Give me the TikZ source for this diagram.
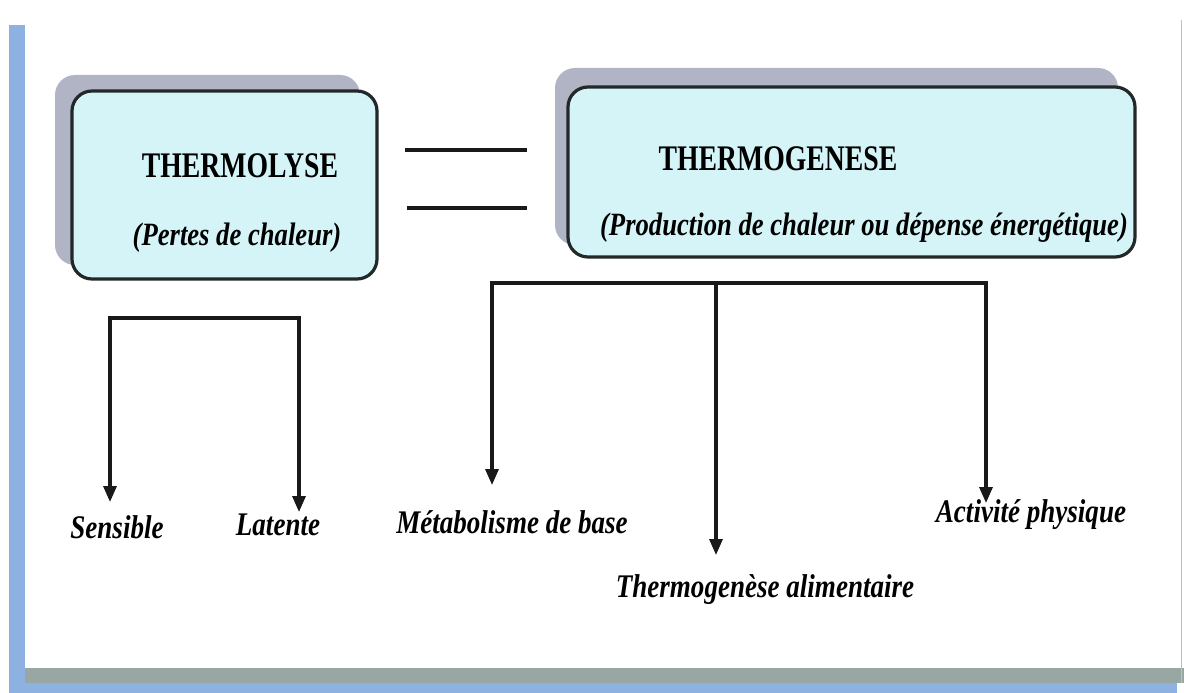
\documentclass[tikz,border=0pt]{standalone}
\usepackage{fontspec}
\setmainfont{Liberation Serif}
\newfontfamily\condfont[FakeStretch=0.77]{Liberation Serif}
\newfontfamily\leaffont[FakeStretch=0.82]{Liberation Serif}
\usetikzlibrary{arrows.meta}
\definecolor{boxfill}{RGB}{212,244,247}
\definecolor{shadowc}{RGB}{176,180,196}
\definecolor{edgec}{RGB}{34,40,40}
\definecolor{barblue}{RGB}{141,177,224}
\definecolor{bandgray}{RGB}{152,166,164}
\tikzset{
  shadowbox/.style={fill=shadowc, draw=none, rounded corners=20pt},
  mainbox/.style={fill=boxfill, draw=edgec, line width=3.2pt, rounded corners=20pt},
  title/.style={font=\condfont\bfseries\fontsize{36}{40}\selectfont, inner sep=0pt},
  sub/.style={font=\leaffont\bfseries\itshape\fontsize{32.5}{36}\selectfont, inner sep=0pt},
  leaf/.style={font=\leaffont\bfseries\itshape\fontsize{33}{36}\selectfont, inner sep=0pt},
  link/.style={line width=3.2pt, draw=black!90},
  tips/.style={link, {Triangle[length=16pt,width=13pt]}-{Triangle[length=16pt,width=13pt]}},
  tip/.style={link, -{Triangle[length=16pt,width=13pt]}},
  eqline/.style={line width=3.2pt, draw=black!90}
}
\begin{document}
\begin{tikzpicture}[x=1pt,y=-1pt]
\useasboundingbox (0,0) rectangle (1184,693);
\fill[white] (0,0) rectangle (1184,693);
% frame
\fill[barblue] (9,25) rectangle (25,693);
\fill[bandgray] (25,668) rectangle (1184,683);
\fill[barblue] (9,683) rectangle (1177,693);
\draw[black!25, line width=1pt] (1181,20) -- (1181,683);
% left box
\fill[shadowbox] (55,75) rectangle (360,265);
\node[mainbox, minimum width=305pt, minimum height=188pt] (lyse) at (224.5,185) {};
\node[title] (lysetitle) at (240,166) {THERMOLYSE};
\node[sub] (lysesub) at (237,238) {(Pertes de chaleur)};
% right box
\fill[shadowbox] (555,68) rectangle (1118,245);
\node[mainbox, minimum width=567pt, minimum height=170pt] (gen) at (851.5,172) {};
\node[title] (gentitle) at (778,159) {THERMOGENESE};
\node[sub] (gensub) at (864,228) {(Production de chaleur ou dépense énergétique)};
% equal sign
\coordinate (e1a) at (405,150); \coordinate (e1b) at (527,150);
\coordinate (e2a) at (407,208); \coordinate (e2b) at (527,208);
\draw[eqline] (e1a) -- (e1b);
\draw[eqline] (e2a) -- (e2b);
% left tree
\node[leaf] (sens) at (117,527) {Sensible};
\node[leaf] (lat) at (278,525) {Latente};
\coordinate (sTip) at (110,502);
\coordinate (lTop) at (299,318);
\coordinate (lTip) at (299,512);
\draw[tips] (sTip) |- (lTop) -- (lTip);
% right tree
\node[leaf] (meta) at (512,522) {Métabolisme de base};
\node[leaf] (alim) at (765,590) {Thermogenèse alimentaire};
\node[leaf] (act) at (1031,515) {Activité physique};
\coordinate (mTip) at (492,485);
\coordinate (aTop) at (986,283);
\coordinate (aTip) at (986,503);
\coordinate (tTop) at (716,283);
\coordinate (tTip) at (716,555);
\draw[tips] (mTip) |- (aTop) -- (aTip);
\draw[tip] (tTop) -- (tTip);
\end{tikzpicture}
\end{document}
